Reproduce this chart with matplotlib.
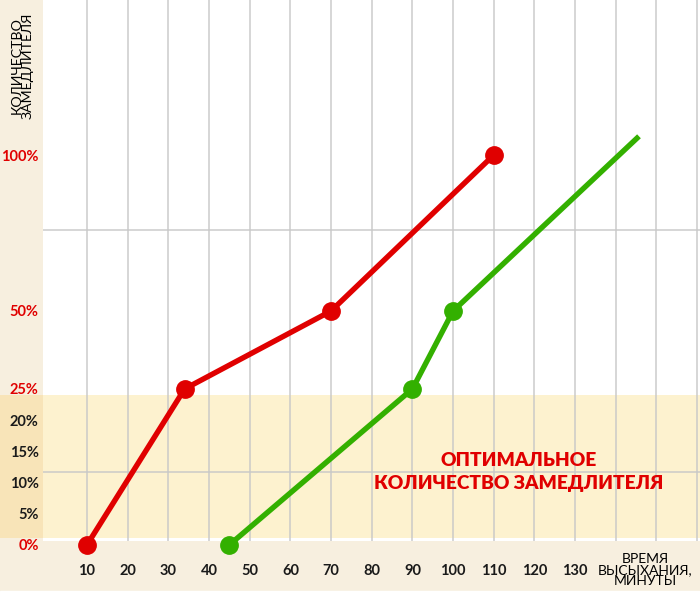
import matplotlib.pyplot as plt
import numpy as np
from matplotlib.patches import Rectangle

# drying time (minutes) vs. retarder amount (%)
red_x = [10, 34, 70, 110]
red_y = [0, 25, 50, 100]
green_x = [45, 90, 100]
green_y = [0, 25, 50]
green_end = (145.7, 106)

x_ticks = list(range(10, 170, 10))
x_labels = [str(v) if v <= 130 else "" for v in x_ticks]
y_ticks = [0, 5, 10, 15, 20, 25, 50, 100]
y_labels = ["0%", "5%", "10%", "15%", "20%", "25%", "50%", "100%"]
y_red = [0, 25, 50, 100]
y_grid = [11.7, 25, 50, 76, 100]

RED = "#e00000"
GREEN = "#33b000"
BEIGE = "#f7efdf"
YELLOW = "#fdf2cf"
DARK_BEIGE = "#f8e4b8"
FONT = ["Lato", "DejaVu Sans"]


def fwd(y):
    y = np.asarray(y, dtype=float)
    return np.where(y <= 25, 2 * y, y + 25)


def inv(u):
    u = np.asarray(u, dtype=float)
    return np.where(u <= 50, u / 2, u - 25)


fig = plt.figure(figsize=(7, 5.93), dpi=100, facecolor=BEIGE)
ax = fig.add_axes([43 / 700, 48 / 593, 657 / 700, 545 / 593])
ax.set_facecolor("white")
ax.set_yscale("function", functions=(fwd, inv))
ax.set_xlim(-0.82, 160.7)
ax.set_ylim(-0.02, 149.7)

for s in ax.spines.values():
    s.set_visible(False)

# optimal zone
ax.axhspan(1.12, 24, color=YELLOW, zorder=0, lw=0)
ax.axhspan(1.12, 24, xmin=-43 / 657, xmax=0, color=DARK_BEIGE, lw=0,
           clip_on=False, zorder=0)
# beige strip under the plot
ax.axhspan(-0.02, 0.64, color=BEIGE, zorder=2, lw=0)

ax.set_xticks(x_ticks)
ax.set_xticklabels(x_labels)
ax.set_yticks(y_ticks)
ax.set_yticklabels(y_labels)
ax.set_yticks(y_grid, minor=True)
ax.tick_params(length=0, which="both")
ax.tick_params(axis="x", pad=14)
ax.tick_params(axis="y", pad=3)
for lab in ax.get_xticklabels() + ax.get_yticklabels():
    lab.set_fontfamily(FONT)
    lab.set_fontsize(10.5)
    lab.set_fontweight("bold")
    lab.set_color("#1a1a1a")
for lab, v in zip(ax.get_yticklabels(), y_ticks):
    if v in y_red:
        lab.set_color(RED)

ax.grid(axis="x", which="major", color="#c8c8c8", lw=1.3, alpha=0.8, zorder=1)
ax.grid(axis="y", which="minor", color="#c8c8c8", lw=1.3, alpha=0.8, zorder=1)
ax.set_axisbelow(True)

ax.plot(red_x, red_y, color=RED, lw=3.9, marker="o", ms=12.5,
        solid_capstyle="butt", clip_on=False, zorder=4)
ax.plot(green_x + [green_end[0]], green_y + [green_end[1]], color=GREEN, lw=3.9,
        solid_capstyle="butt", clip_on=False, zorder=3)
ax.plot(green_x, green_y, "o", color=GREEN, ms=12.5, clip_on=False, zorder=3)

ax.text(116.1, 11.7, "ОПТИМАЛЬНОЕ\nКОЛИЧЕСТВО ЗАМЕДЛИТЕЛЯ", color=RED,
        fontsize=13.8, fontweight="heavy", family=FONT, ha="center", va="center",
        linespacing=1.4, zorder=5)

fig.text(22 / 700, 1 - 66 / 593, "КОЛИЧЕСТВО\nЗАМЕДЛИТЕЛЯ", rotation=90,
         ha="center", va="center", fontsize=10.2, fontweight="normal",
         family=FONT, linespacing=0.9, color="#000000")
fig.text(645 / 700, 1 - 570 / 593, "ВРЕМЯ\nВЫСЫХАНИЯ,\nМИНУТЫ", ha="center",
         va="center", fontsize=10, fontweight="normal", family=FONT,
         linespacing=0.9, color="#000000")

fig.patches.append(Rectangle((0, 0), 1, 2 / 593, transform=fig.transFigure,
                             color="white", zorder=0))

fig.savefig("out.png", dpi=100, facecolor=BEIGE)
